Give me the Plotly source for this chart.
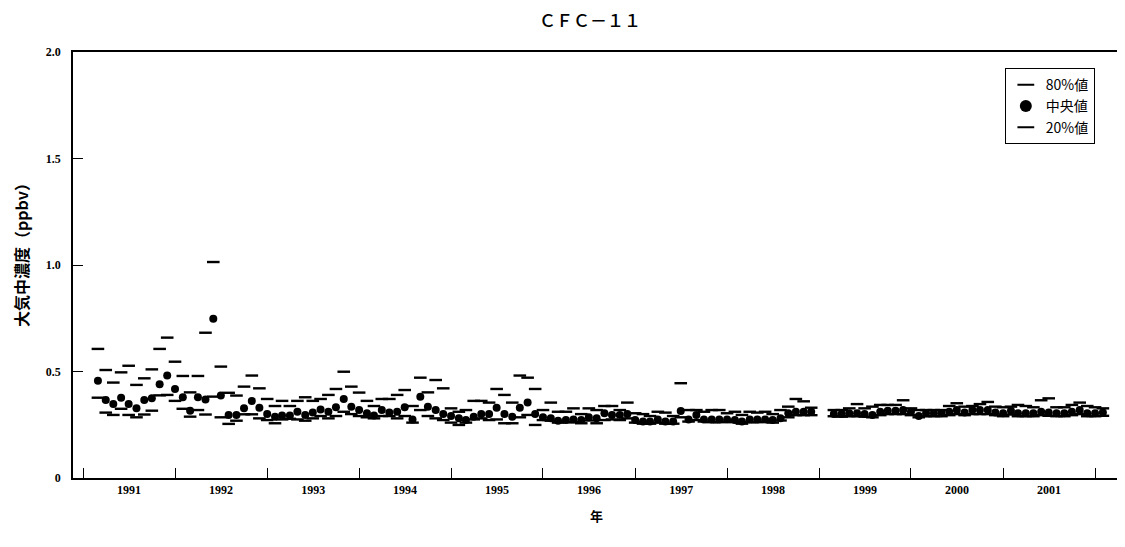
import pandas as pd
import plotly.graph_objects as go

# Monthly observations, March 1991 - February 2002 (None = no observation)
months = pd.date_range("1991-03-01", periods=132, freq="MS")

p80 = [
    # 1991 (Mar-Dec)
    0.606, 0.507, 0.448, 0.496, 0.527, 0.437, 0.468, 0.510, 0.606, 0.659,
    # 1992
    0.546, 0.479, 0.402, 0.479, 0.682, 1.014, 0.523, 0.400, 0.387, 0.429, 0.481, 0.421,
    # 1993
    0.371, 0.338, 0.362, 0.338, 0.362, 0.379, 0.362, 0.371, 0.390, 0.418, 0.499, 0.429,
    # 1994
    0.401, 0.362, 0.338, 0.371, 0.371, 0.390, 0.413, 0.338, 0.471, 0.402, 0.460, 0.421,
    # 1995
    0.327, 0.311, 0.319, 0.362, 0.362, 0.354, 0.418, 0.390, 0.354, 0.481, 0.471, 0.418,
    # 1996
    0.319, 0.354, 0.311, 0.311, 0.327, 0.300, 0.327, 0.319, 0.338, 0.338, 0.319, 0.354,
    # 1997
    0.304, 0.300, 0.291, 0.311, 0.307, 0.291, 0.445, 0.319, 0.319, 0.311, 0.319, 0.319,
    # 1998
    0.304, 0.311, 0.296, 0.311, 0.307, 0.311, 0.300, 0.319, 0.335, 0.371, 0.360, 0.330,
    # 1999
    None, None, 0.319, 0.319, 0.327, 0.347, 0.327, 0.335, 0.343, 0.343, 0.343, 0.365,
    # 2000
    0.327, 0.319, 0.319, 0.319, 0.319, 0.338, 0.351, 0.335, 0.338, 0.347, 0.357, 0.335,
    # 2001
    0.332, 0.335, 0.343, 0.338, 0.332, 0.365, 0.374, 0.332, 0.332, 0.343, 0.354, 0.338,
    # 2002 (Jan-Feb)
    0.332, 0.327,
]

med = [
    0.457, 0.366, 0.347, 0.377, 0.347, 0.327, 0.366, 0.374, 0.440, 0.481,
    0.418, 0.379, 0.316, 0.379, 0.369, 0.748, 0.387, 0.296, 0.296, 0.327, 0.362, 0.330,
    0.300, 0.288, 0.293, 0.293, 0.311, 0.296, 0.307, 0.322, 0.311, 0.332, 0.371, 0.335,
    0.319, 0.304, 0.293, 0.319, 0.307, 0.311, 0.332, 0.275, 0.382, 0.335, 0.319, 0.300,
    0.291, 0.280, 0.272, 0.288, 0.300, 0.300, 0.330, 0.300, 0.288, 0.330, 0.354, 0.300,
    0.285, 0.280, 0.269, 0.272, 0.275, 0.272, 0.285, 0.280, 0.304, 0.296, 0.296, 0.300,
    0.272, 0.265, 0.265, 0.275, 0.265, 0.265, 0.314, 0.275, 0.296, 0.275, 0.275, 0.275,
    0.275, 0.272, 0.265, 0.275, 0.275, 0.275, 0.272, 0.280, 0.304, 0.311, 0.311, 0.311,
    None, None, 0.300, 0.300, 0.304, 0.304, 0.300, 0.296, 0.311, 0.316, 0.316, 0.319,
    0.311, 0.291, 0.304, 0.304, 0.304, 0.311, 0.319, 0.307, 0.319, 0.319, 0.319, 0.307,
    0.304, 0.316, 0.304, 0.304, 0.304, 0.311, 0.307, 0.304, 0.304, 0.311, 0.319, 0.304,
    0.304, 0.307,
]

p20 = [
    0.377, 0.307, 0.296, 0.325, 0.296, 0.285, 0.298, 0.316, 0.388, 0.390,
    0.362, 0.325, 0.288, 0.319, 0.298, 0.382, 0.285, 0.254, 0.269, 0.299, 0.299, 0.280,
    0.272, 0.257, 0.275, 0.278, 0.275, 0.269, 0.280, 0.291, 0.280, 0.291, 0.311, 0.300,
    0.291, 0.285, 0.280, 0.291, 0.291, 0.280, 0.291, 0.260, 0.319, 0.291, 0.280, 0.272,
    0.260, 0.249, 0.260, 0.275, 0.280, 0.272, 0.275, 0.257, 0.257, 0.285, 0.296, 0.249,
    0.272, 0.269, 0.260, 0.262, 0.262, 0.257, 0.270, 0.257, 0.272, 0.275, 0.272, 0.280,
    0.260, 0.255, 0.255, 0.260, 0.255, 0.255, 0.285, 0.265, 0.272, 0.265, 0.262, 0.262,
    0.265, 0.262, 0.255, 0.262, 0.262, 0.265, 0.260, 0.270, 0.285, 0.295, 0.295, 0.295,
    None, None, 0.290, 0.288, 0.290, 0.290, 0.288, 0.285, 0.295, 0.300, 0.300, 0.300,
    0.295, 0.285, 0.290, 0.290, 0.290, 0.295, 0.300, 0.295, 0.300, 0.300, 0.300, 0.295,
    0.290, 0.298, 0.290, 0.290, 0.290, 0.295, 0.292, 0.290, 0.290, 0.295, 0.300, 0.290,
    0.290, 0.292,
]

y_tickvals = [0, 0.5, 1.0, 1.5, 2.0]
y_ticktext = ["0", "0.5", "1.0", "1.5", "2.0"]

JP = "Noto Sans CJK JP"
SERIF = "Liberation Serif"

fig = go.Figure()
dash_marker = dict(symbol="line-ew", size=9, color="black",
                   line=dict(color="black", width=2.4))
fig.add_trace(go.Scatter(x=months, y=p80, mode="markers", name="80%値",
                         marker=dash_marker, legendrank=1))
fig.add_trace(go.Scatter(x=months, y=p20, mode="markers", name="20%値",
                         marker=dash_marker, legendrank=3))
fig.add_trace(go.Scatter(x=months, y=med, mode="markers", name="中央値",
                         marker=dict(symbol="circle", size=8, color="black"),
                         legendrank=2))

fig.update_layout(
    width=1117, height=539,
    margin=dict(l=65, r=3, t=44, b=69),
    paper_bgcolor="white", plot_bgcolor="white",
    title=dict(text="ＣＦＣ－１１", x=0.521, xanchor="center",
               yref="container", y=0.975, yanchor="middle",
               font=dict(family=JP, size=17, color="black", weight=500)),
    showlegend=True,
    legend=dict(x=0.89, y=0.962, xanchor="left", yanchor="top",
                bordercolor="black", borderwidth=1, bgcolor="white",
                font=dict(family=JP, size=14, color="black"),
                itemsizing="constant", tracegroupgap=0),
    font=dict(family=JP, color="black"),
    annotations=[dict(
        text="大気中濃度（ppbv）", textangle=-90,
        xref="paper", yref="paper", x=-0.0495, y=0.533,
        xanchor="center", yanchor="middle", showarrow=False,
        font=dict(family=JP, size=16, color="black", weight="bold"),
    )],
)

fig.update_xaxes(
    type="date",
    range=["1990-11-22", "2002-04-10"],
    tick0="1991-01-01", dtick="M12",
    ticklabelmode="period", tickformat="%Y",
    ticks="inside", ticklen=10, tickwidth=1.2, tickcolor="black",
    showgrid=False, zeroline=False,
    showline=True, mirror=True, linecolor="black", linewidth=1.5,
    tickfont=dict(family=SERIF, size=12, color="black", weight="bold"),
    title=dict(text="年", font=dict(family=JP, size=13, color="black", weight="bold"),
               standoff=16),
)

fig.update_yaxes(
    range=[0, 2.0],
    tickvals=y_tickvals, ticktext=y_ticktext,
    ticks="inside", ticklen=10, tickwidth=1.2, tickcolor="black",
    showgrid=False, zeroline=False,
    showline=True, mirror=True, linecolor="black", linewidth=1.5,
    ticklabelstandoff=8,
    tickfont=dict(family=SERIF, size=12, color="black", weight="bold"),
)

fig.write_html("out.html")
